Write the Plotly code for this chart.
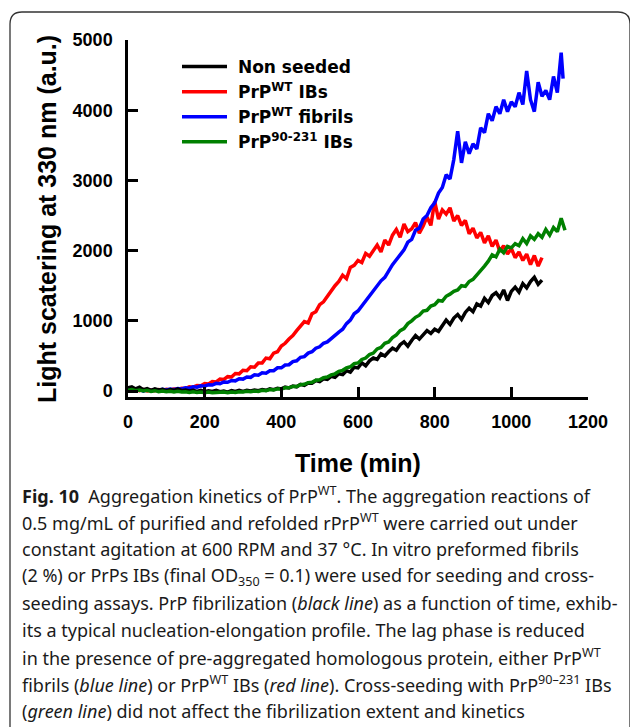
import plotly.graph_objects as go

# ---------------- data, 10-min sampling ----------------
t_black = list(range(0, 1090, 10))
y_black = [45, 60, 30, 55, 20, 35, 10, 30, 15, 25,
           5, 20, 10, 30, 5, 15, 0, 10, -5, 10,
           -10, 5, -5, 10, -10, 0, -15, 5, -5, 10,
           -5, 10, 0, 15, 5, 20, 10, 30, 20, 40,
           30, 55, 45, 70, 60, 95, 80, 115, 110, 150,
           135, 175, 165, 210, 195, 245, 235, 290, 270, 340,
           330, 400, 360, 430, 470, 450, 530, 500, 560, 610,
           580, 660, 700, 640, 720, 790, 740, 800, 860, 820,
           880, 850, 940, 1010, 950, 1040, 1090, 1020, 1120, 1180,
           1130, 1240, 1210, 1320, 1260, 1360, 1400, 1330, 1440, 1290,
           1420, 1480, 1410, 1530, 1470, 1560, 1620, 1520, 1580]

t_red = list(range(0, 1090, 10))
y_red = [20, 0, 25, 5, 20, 0, 15, 5, 20, 10,
         25, 15, 30, 25, 40, 35, 60, 55, 80, 75,
         105, 100, 135, 130, 170, 165, 205, 200, 250, 245,
         295, 290, 345, 340, 400, 400, 470, 460, 540, 560,
         640, 680, 740, 790, 860, 920, 990, 970, 1100, 1130,
         1230, 1270, 1350, 1420, 1500, 1560, 1650, 1600, 1760, 1790,
         1860, 1830, 1960, 1920, 2010, 2080, 1980, 2150, 2080, 2220,
         2300, 2190, 2380, 2270, 2310, 2400, 2250, 2350, 2480, 2360,
         2700, 2450, 2580, 2520, 2610, 2420, 2500, 2360, 2430, 2240,
         2320, 2180, 2260, 2110, 2210, 2060, 2150, 1990, 2070, 1950,
         2030, 1900, 1980, 1860, 1950, 1800, 1930, 1780, 1900]

t_blue = list(range(0, 1140, 10)) + [1135]
y_blue = [10, 30, 5, 25, 0, 20, 5, 20, 10, 25,
          15, 30, 20, 35, 30, 45, 40, 60, 55, 75,
          70, 90, 85, 110, 105, 130, 125, 150, 145, 175,
          170, 200, 195, 230, 225, 260, 255, 290, 290, 330,
          330, 370, 375, 420, 430, 480, 490, 540, 560, 610,
          630, 680, 700, 750, 790, 840, 880, 960, 1010, 1100,
          1140, 1210, 1290, 1350, 1440, 1500, 1570, 1620, 1720, 1800,
          1870, 1940, 2010, 2120, 2160, 2290, 2320, 2450, 2500, 2610,
          2680, 2820, 2900, 3080, 3020, 3300, 3700, 3250, 3550, 3380,
          3520, 3450, 3750, 3680, 3950, 3850, 4050, 3950, 4150, 3980,
          4120, 4050, 4250, 4080, 4560, 4150, 3980, 4400, 4200, 4280,
          4150, 4480, 4250, 4820, 4450]

t_green = list(range(0, 1150, 10))
y_green = [10, 20, 5, 15, 0, 10, -5, 5, -10, 0,
           -10, -5, -15, -5, -15, -10, -20, -10, -20, -15,
           -25, -15, -25, -20, -25, -15, -25, -15, -20, -10,
           -15, -5, -10, 0, -5, 10, 5, 20, 15, 30,
           30, 45, 45, 65, 65, 90, 95, 120, 125, 155,
           160, 190, 200, 230, 245, 280, 295, 330, 345, 390,
           400, 450, 470, 520, 540, 600, 620, 680, 700, 760,
           800, 860, 890, 960, 1000, 1050, 1080, 1140, 1150, 1210,
           1230, 1290, 1280, 1350, 1380, 1420, 1440, 1500, 1490, 1560,
           1590, 1650, 1710, 1780, 1850, 1940, 1910, 2020, 1970, 2060,
           2040, 2100, 2070, 2170, 2100, 2210, 2160, 2240, 2190, 2300,
           2220, 2330, 2270, 2460, 2290]

series_names = ["Non seeded", "PrP<sup>WT</sup> IBs", "PrP<sup>WT</sup> fibrils", "PrP<sup>90-231</sup> IBs"]
series_colors = ["#000000", "#ff0000", "#0000ff", "#008000"]

x_ticks = [0, 200, 400, 600, 800, 1000, 1200]
y_ticks = [0, 1000, 2000, 3000, 4000, 5000]

caption_lines = [
    "<b>Fig. 10</b>\u00a0\u00a0Aggregation kinetics of PrP<sup>WT</sup>. The aggregation reactions of",
    "0.5 mg/mL of purified and refolded rPrP<sup>WT</sup> were carried out under",
    "constant agitation at 600 RPM and 37 °C. In vitro preformed fibrils",
    "(2 %) or PrPs IBs (final OD<sub>350</sub> = 0.1) were used for seeding and cross-",
    "seeding assays. PrP fibrilization (<i>black line</i>) as a function of time, exhib-",
    "its a typical nucleation-elongation profile. The lag phase is reduced",
    "in the presence of pre-aggregated homologous protein, either PrP<sup>WT</sup>",
    "fibrils (<i>blue line</i>) or PrP<sup>WT</sup> IBs (<i>red line</i>). Cross-seeding with PrP<sup>90\u2013231</sup> IBs",
    "(<i>green line</i>) did not affect the fibrilization extent and kinetics",
]

# ---------------- layout geometry (pixels) ----------------
W, H = 630, 727
L, R, T, B = 128, 588, 40, 397


def px_x(px):
    return (px - L) / (R - L)


def px_y(py):
    return (B - py) / (B - T)


fig = go.Figure()
data = [(t_red, y_red, 1, 2), (t_blue, y_blue, 2, 3), (t_black, y_black, 0, 1), (t_green, y_green, 3, 4)]
for tx, ty, idx, rank in data:
    fig.add_trace(go.Scatter(
        x=tx, y=ty, mode="lines", name="\u00a0" + series_names[idx],
        line=dict(color=series_colors[idx], width=3.5),
        legendrank=rank,
    ))

axis_font = dict(family="Liberation Sans, Arial, sans-serif", size=18, color="black", weight="bold")

fig.update_layout(
    width=W, height=H,
    margin=dict(l=L, r=W - R, t=T, b=H - B),
    paper_bgcolor="white", plot_bgcolor="white",
    showlegend=True,
    legend=dict(
        x=px_x(177), y=px_y(49), xanchor="left", yanchor="top",
        font=dict(family="DejaVu Sans, sans-serif", size=17, color="black", weight="bold"),
        bgcolor="rgba(0,0,0,0)", itemwidth=45, tracegroupgap=0,
    ),
    xaxis=dict(
        range=[0, 1200], tickvals=x_ticks, ticks="inside", ticklen=10, tickwidth=2.5,
        tickcolor="black", showline=True, linewidth=2.5, linecolor="black",
        showgrid=False, zeroline=False, tickfont=axis_font, ticklabelstandoff=7,
    ),
    yaxis=dict(
        range=[-85, 5000], tickvals=y_ticks, ticks="inside", ticklen=10, tickwidth=2.5,
        tickcolor="black", showline=True, linewidth=2.5, linecolor="black",
        showgrid=False, zeroline=False, tickfont=axis_font, ticklabelstandoff=9,
    ),
)

title_font = dict(family="Liberation Sans, Arial, sans-serif", size=25, color="black", weight="bold")
annotations = [
    dict(text="Time (min)", x=px_x(358), y=px_y(463), xref="paper", yref="paper",
         xanchor="center", yanchor="middle", showarrow=False, font=title_font),
    dict(text="Light scatering at 330 nm (a.u.)", x=px_x(47), y=px_y(219), xref="paper", yref="paper",
         xanchor="center", yanchor="middle", showarrow=False, font=title_font, textangle=-90),
]
cap_font = dict(family="Noto Sans, sans-serif", size=18, color="#1a1a1a")
for i, line in enumerate(caption_lines):
    annotations.append(dict(
        text=line, x=px_x(20), y=px_y(495 + 27 * i), xref="paper", yref="paper",
        xanchor="left", yanchor="middle", showarrow=False, font=cap_font, align="left",
    ))
fig.update_layout(annotations=annotations)

# rounded frame around the figure
x0, x1, y0, r = 10, 630, 12, 12
path = (f"M {px_x(x0)},{px_y(H)} L {px_x(x0)},{px_y(y0 + r)} "
        f"Q {px_x(x0)},{px_y(y0)} {px_x(x0 + r)},{px_y(y0)} "
        f"L {px_x(x1 - r)},{px_y(y0)} Q {px_x(x1)},{px_y(y0)} {px_x(x1)},{px_y(y0 + r)} "
        f"L {px_x(x1)},{px_y(H)}")
fig.add_shape(type="path", path=path, xref="paper", yref="paper",
              line=dict(color="#333333", width=1.3), layer="below")

fig.write_html("out.html")
